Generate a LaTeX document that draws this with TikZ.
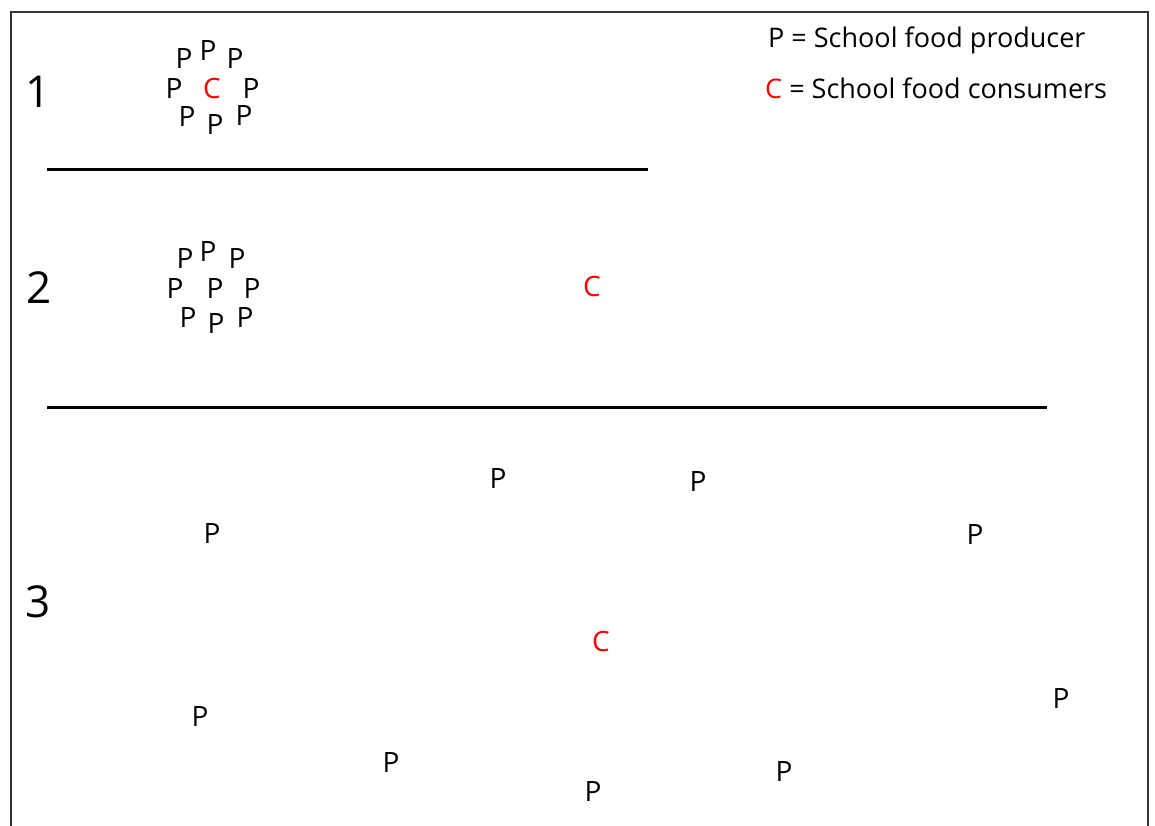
\documentclass[tikz,border=0pt]{standalone}
\usepackage{fontspec}
\setmainfont{Open Sans}
\begin{document}
\begin{tikzpicture}[x=1pt,y=-1pt,
  lbl/.style={inner sep=0pt,font=\fontsize{27}{30}\selectfont},
  num/.style={inner sep=0pt,font=\fontsize{44}{48}\selectfont},
  prod/.style={inner sep=0pt,font=\fontsize{28}{30}\selectfont},
  cons/.style={inner sep=0pt,text=red,font=\fontsize{28}{30}\selectfont},
  rule/.style={line width=3pt},
  frame/.style={line width=2.6pt,draw=black!80}]
\useasboundingbox (0,0) rectangle (1155,825);
\coordinate (fbl) at (11,830);
\coordinate (ftl) at (11,12);
\coordinate (ftr) at (1148,12);
\coordinate (fbr) at (1148,830);
\draw[frame] (fbl) -- (ftl) -- (ftr) -- (fbr);
% legend
\node[lbl,anchor=west] (legP) at (768,40) {P = School food producer};
\node[lbl,anchor=west] (legC) at (765,88) {\textcolor{red}{C} = School food consumers};
% section numbers
\node[num] (n1) at (38,92) {1};
\node[num] (n2) at (39,288) {2};
\node[num] (n3) at (38,602) {3};
% rules
\coordinate (r1a) at (47,169); \coordinate (r1b) at (648,169);
\coordinate (r2a) at (47,407); \coordinate (r2b) at (1047,407);
\draw[rule] (r1a) -- (r1b);
\draw[rule] (r2a) -- (r2b);
% section 1
\node[prod] (a1) at (184,59) {P};
\node[prod] (a2) at (208,51) {P};
\node[prod] (a3) at (235,59) {P};
\node[prod] (a4) at (174,89) {P};
\node[cons] (ac) at (212,88) {C};
\node[prod] (a5) at (251,89) {P};
\node[prod] (a6) at (187,117) {P};
\node[prod] (a7) at (215,125) {P};
\node[prod] (a8) at (244,116) {P};
% section 2
\node[prod] (b1) at (185,258) {P};
\node[prod] (b2) at (208,251) {P};
\node[prod] (b3) at (237,258) {P};
\node[prod] (b4) at (175,288) {P};
\node[prod] (b5) at (215,288) {P};
\node[prod] (b6) at (252,288) {P};
\node[prod] (b7) at (188,317) {P};
\node[prod] (b8) at (216,323) {P};
\node[prod] (b9) at (245,317) {P};
\node[cons] (bc) at (592,286) {C};
% section 3
\node[prod] (c1) at (498,478) {P};
\node[prod] (c2) at (698,481) {P};
\node[prod] (c3) at (212,533) {P};
\node[prod] (c4) at (975,534) {P};
\node[cons] (cc) at (601,641) {C};
\node[prod] (c5) at (1061,698) {P};
\node[prod] (c6) at (200,716) {P};
\node[prod] (c7) at (391,762) {P};
\node[prod] (c8) at (593,791) {P};
\node[prod] (c9) at (784,771) {P};
\end{tikzpicture}
\end{document}
